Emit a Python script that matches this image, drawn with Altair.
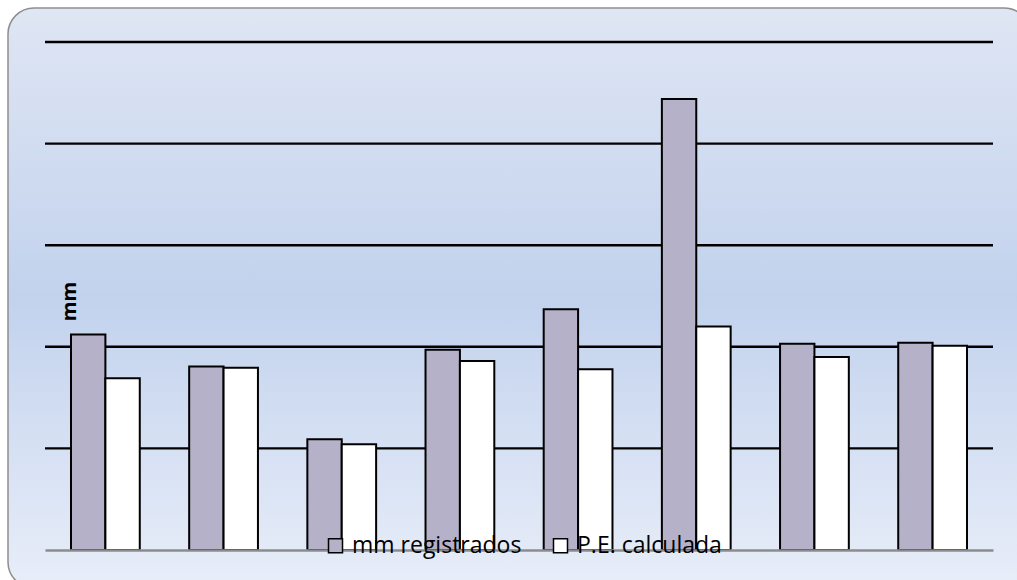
import altair as alt
import pandas as pd

categories = ["1", "2", "3", "4", "5", "6", "7", "8"]
series_names = ["mm registrados", "P.E. calculada"]
mm_registrados = [212, 180.5, 109, 197, 237, 444, 203, 204]
pe_calculada = [169, 179.5, 104, 186, 178, 220, 190, 201]
grid_values = [100, 200, 300, 400, 500]

rows = []
for c, a, b in zip(categories, mm_registrados, pe_calculada):
    rows.append({"cat": c, "serie": series_names[0], "val": a})
    rows.append({"cat": c, "serie": series_names[1], "val": b})
df = pd.DataFrame(rows)
grid_df = pd.DataFrame({"g": grid_values})

W, H = 948, 508
PL, PT, PR, PB = 45, 42, 24, 30

ydom = alt.Scale(domain=[0, 500], nice=False, zero=True)
yaxis = alt.Axis(
    title="mm", labels=False, ticks=False, grid=False, domain=False,
    titleAngle=-90, titleX=24, titleY=259, titleAlign="center",
    titleBaseline="middle", titleFont="Open Sans", titleFontSize=20,
    titleFontWeight="bold", titleColor="#000000", zindex=1,
)

bg = alt.Chart(pd.DataFrame({"d": [0]})).mark_rect(
    fill=alt.Gradient(
        gradient="linear",
        stops=[
            alt.GradientStop(color="#dfe6f4", offset=0),
            alt.GradientStop(color="#c2d2ed", offset=0.5),
            alt.GradientStop(color="#e8eef9", offset=1),
        ],
        x1=0, x2=0, y1=0, y2=1,
    ),
    stroke="#8e8e8e",
    strokeWidth=1.5,
    cornerRadius=26,
).encode(
    x=alt.value(8 - PL),
    x2=alt.value(1030 - PL),
    y=alt.value(8 - PT),
    y2=alt.value(588 - PT),
)

grid = alt.Chart(grid_df).mark_rule(color="#000000", strokeWidth=2.4).encode(
    y=alt.Y("g:Q", scale=ydom, axis=yaxis, title="mm")
)

bars = alt.Chart(df).mark_bar(stroke="#000000", strokeWidth=2, opacity=1).encode(
    x=alt.X(
        "cat:N",
        sort=categories,
        scale=alt.Scale(paddingInner=0.418, paddingOuter=0.22),
        axis=alt.Axis(
            title=None, labels=False, ticks=False, grid=False,
            domain=True, domainColor="#8c8c8c", domainWidth=2.5, zindex=1,
        ),
    ),
    xOffset=alt.XOffset("serie:N", sort=series_names),
    y=alt.Y("val:Q", scale=ydom, axis=yaxis, title="mm"),
    color=alt.Color(
        "serie:N",
        sort=series_names,
        scale=alt.Scale(domain=series_names, range=["#b4b1c9", "#ffffff"]),
        legend=alt.Legend(
            title=None, orient="none", direction="horizontal",
            legendX=279, legendY=492, padding=0, zindex=3,
            symbolType="square", symbolSize=196, symbolStrokeColor="#000000",
            symbolStrokeWidth=1.5, symbolOpacity=1,
            labelFont="Open Sans", labelFontSize=23, labelColor="#000000",
            labelOffset=5, columnPadding=27, labelLimit=400,
        ),
    ),
)

chart = alt.layer(bg, grid, bars).properties(
    width=W, height=H,
    padding={"left": PL, "top": PT, "right": PR, "bottom": PB},
    autosize=alt.AutoSizeParams(type="none"),
    background="#ffffff",
).configure_view(stroke=None).configure_axisY(
    titleFontSize=20, titleFont="Open Sans", titleFontWeight="bold", titleColor="#000000"
)

chart.save("out.html", embed_options={"renderer": "svg", "actions": False})
